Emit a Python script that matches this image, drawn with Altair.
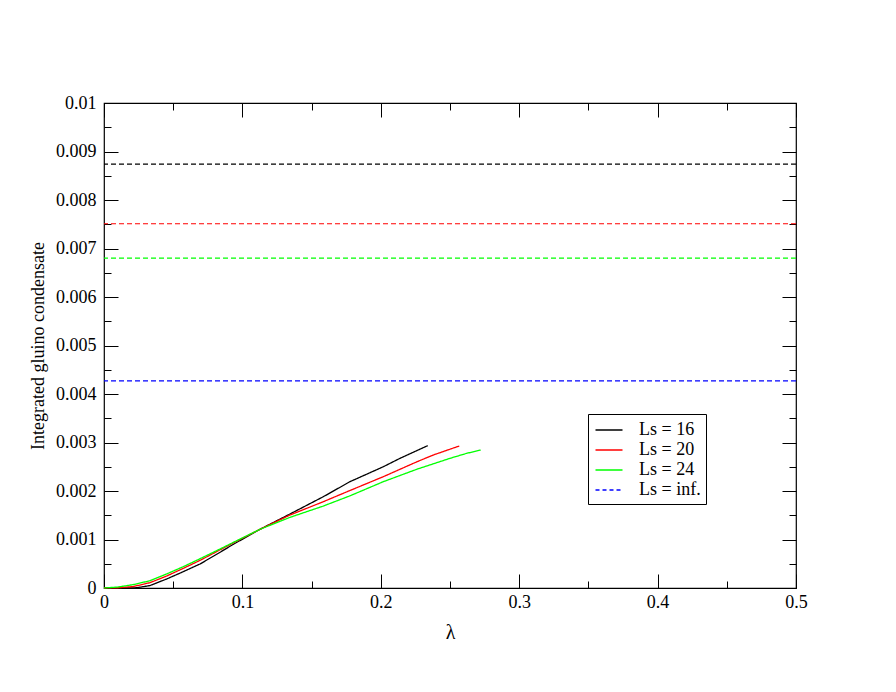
import altair as alt
import pandas as pd

# ---- data (condensate values in units of 1e-3) ----
lam_16 = [0, 0.012, 0.0236, 0.0332, 0.0453, 0.0573, 0.0694, 0.0814, 0.0934, 0.1127,
          0.1344, 0.1585, 0.1777, 0.2018, 0.2139, 0.2339]
gc_16 = [0, 0, 0.005, 0.05, 0.186, 0.337, 0.495, 0.695, 0.90, 1.21,
         1.526, 1.883, 2.192, 2.50, 2.674, 2.935]

lam_20 = [0, 0.01, 0.0212, 0.0332, 0.0453, 0.0573, 0.0694, 0.0814, 0.0934, 0.1127,
          0.1344, 0.1585, 0.1777, 0.2018, 0.2259, 0.2379, 0.2567]
gc_20 = [0, 0.005, 0.03, 0.11, 0.247, 0.405, 0.57, 0.75, 0.93, 1.21,
         1.505, 1.78, 2.01, 2.295, 2.60, 2.742, 2.928]

lam_24 = [0, 0.01, 0.0212, 0.0332, 0.0453, 0.0573, 0.0694, 0.0814, 0.0934, 0.1127,
          0.1344, 0.1585, 0.1777, 0.2018, 0.2259, 0.25, 0.2621, 0.2722]
gc_24 = [0, 0.02, 0.07, 0.15, 0.29, 0.44, 0.604, 0.77, 0.94, 1.21,
         1.457, 1.69, 1.90, 2.192, 2.447, 2.674, 2.777, 2.845]

series_names = ["Ls = 16", "Ls = 20", "Ls = 24", "Ls = inf."]
series_colors = ["#000000", "#ff0000", "#00ff00", "#0000ff"]
limit_values = [0.00874, 0.00751, 0.00680, 0.00427]

x_major = [0, 0.1, 0.2, 0.3, 0.4, 0.5]
x_minor = [0.05, 0.15, 0.25, 0.35, 0.45]
y_major = [0, 0.001, 0.002, 0.003, 0.004, 0.005, 0.006, 0.007, 0.008, 0.009, 0.01]
y_minor = [0.0005, 0.0015, 0.0025, 0.0035, 0.0045, 0.0055, 0.0065, 0.0075, 0.0085, 0.0095]

# ---- tables ----
rows = []
for name, xs, ys in [("Ls = 16", lam_16, gc_16), ("Ls = 20", lam_20, gc_20), ("Ls = 24", lam_24, gc_24)]:
    for i, (x, y) in enumerate(zip(xs, ys)):
        rows.append({"lam": x, "gc": y * 1e-3, "series": name, "order": i})
curves = pd.DataFrame(rows)
limits = pd.DataFrame({"gc": limit_values, "series": series_names})

W, H = 692, 485
FONT = "Liberation Serif"

xscale = alt.Scale(domain=[0, 0.5], nice=False, zero=False)
yscale = alt.Scale(domain=[0, 0.01], nice=False, zero=False)

legend = alt.Legend(
    title=None, orient="none", legendX=484, legendY=311,
    strokeColor="black", fillColor="white", padding=5,
    labelFont=FONT, labelFontSize=18, labelColor="black", labelOffset=19,
    symbolType="M-1.35,0H1.35", symbolSize=400, symbolStrokeWidth=1.3,
    symbolOffset=5, symbolFillColor="transparent",
    rowPadding=0,
)
color = alt.Color("series:N", scale=alt.Scale(domain=series_names, range=series_colors), legend=legend)
dash = alt.StrokeDash("series:N",
                      scale=alt.Scale(domain=series_names, range=[[1, 0], [1, 0], [1, 0], [4, 3]]),
                      legend=legend)

lines = alt.Chart(curves).mark_line(strokeWidth=1.3).encode(
    x=alt.X("lam:Q", scale=xscale, title="λ",
            axis=alt.Axis(orient="bottom", values=x_major, format="~g", ticks=False, tickSize=0,
                          domain=False, grid=False, labelFlush=False, labelOverlap=False,
                          labelFont=FONT, labelFontSize=18,
                          labelColor="black", labelPadding=5, titleFont=FONT, titleFontSize=20,
                          titleFontWeight="normal", titleColor="black", titlePadding=11)),
    y=alt.Y("gc:Q", scale=yscale, title="Integrated gluino condensate",
            axis=alt.Axis(orient="left", values=y_major, format="~g", ticks=False, tickSize=0,
                          domain=False, grid=False, labelFlush=False, labelOverlap=False,
                          labelFont=FONT, labelFontSize=18,
                          labelColor="black", labelPadding=8, titleFont=FONT, titleFontSize=18,
                          titleFontWeight="normal", titleColor="black", titlePadding=8)),
    color=color,
    strokeDash=dash,
    order="order:Q",
)

rules = alt.Chart(limits).mark_rule(strokeWidth=1.2, strokeDash=[5, 3]).encode(
    y=alt.Y("gc:Q", scale=yscale, axis=None),
    color=color,
)


def tick_layer(xorient, xoff, yorient, yoff, xvals, yvals, size):
    return alt.Chart(curves).mark_point(opacity=0).encode(
        x=alt.X("lam:Q", scale=xscale, title=None,
                axis=alt.Axis(orient=xorient, offset=xoff, values=xvals, tickSize=size,
                              tickColor="black", tickWidth=1, labels=False, domain=False, grid=False)),
        y=alt.Y("gc:Q", scale=yscale, title=None,
                axis=alt.Axis(orient=yorient, offset=yoff, values=yvals, tickSize=size,
                              tickColor="black", tickWidth=1, labels=False, domain=False, grid=False)),
    )


t1 = tick_layer("top", -H, "right", -W, x_major, y_major, 14)     # bottom & left, major
t2 = tick_layer("bottom", -H, "left", -W, x_major, y_major, 14)   # top & right, major
t3 = tick_layer("top", -H, "right", -W, x_minor, y_minor, 7)      # bottom & left, minor
t4 = tick_layer("bottom", -H, "left", -W, x_minor, y_minor, 7)    # top & right, minor

chart = alt.layer(rules, lines, t1, t2, t3, t4).resolve_axis(
    x="independent", y="independent"
).properties(
    width=W, height=H,
    autosize=alt.AutoSizeParams(type="none"),
    padding={"left": 96, "top": 95, "right": 80, "bottom": 90},
    background="white",
).configure(
    font=FONT
).configure_axis(
    labelFont=FONT, titleFont=FONT
).configure_legend(
    labelFont=FONT
).configure_view(
    stroke="black", strokeWidth=1.2
)

chart.save("out.html", embed_options={"renderer": "svg", "actions": False})
